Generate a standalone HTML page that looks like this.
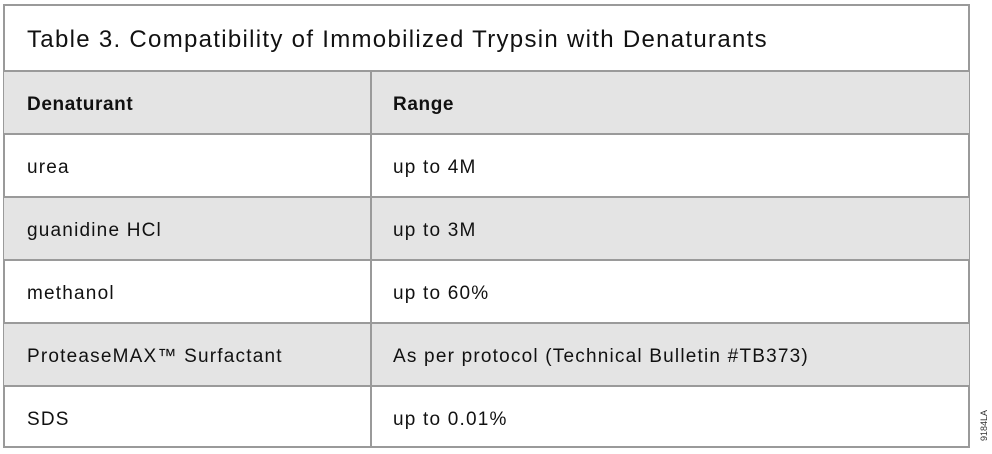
<!DOCTYPE html>
<html><head><style>
body{margin:0;width:992px;height:454px;background:#fff;position:relative;font-family:"Liberation Sans",sans-serif;color:#111;overflow:hidden}
.b{position:absolute;box-sizing:border-box}
.t{position:absolute;white-space:nowrap;font-size:19px;letter-spacing:1.2px}
</style></head><body>
<div class="b" style="left:3px;top:4px;width:967px;height:444px;border:2px solid #9a9a9a"></div>
<div class="b" style="left:4px;top:70px;width:965px;height:63px;background:#e4e4e4"></div>
<div class="b" style="left:4px;top:196px;width:965px;height:63px;background:#e4e4e4"></div>
<div class="b" style="left:4px;top:322px;width:965px;height:63px;background:#e4e4e4"></div>
<div class="b" style="left:4px;top:70px;width:965px;height:2px;background:#9a9a9a"></div>
<div class="b" style="left:4px;top:133px;width:965px;height:2px;background:#9a9a9a"></div>
<div class="b" style="left:4px;top:196px;width:965px;height:2px;background:#9a9a9a"></div>
<div class="b" style="left:4px;top:259px;width:965px;height:2px;background:#9a9a9a"></div>
<div class="b" style="left:4px;top:322px;width:965px;height:2px;background:#9a9a9a"></div>
<div class="b" style="left:4px;top:385px;width:965px;height:2px;background:#9a9a9a"></div>
<div class="b" style="left:370px;top:71px;width:2px;height:376px;background:#9a9a9a"></div>
<div class="t" style="left:27px;top:26px;font-size:24px;letter-spacing:1.3px">Table 3. Compatibility of Immobilized Trypsin with Denaturants</div>
<div class="t" style="left:27px;top:94px;font-weight:bold;letter-spacing:0.6px">Denaturant</div>
<div class="t" style="left:393px;top:94px;font-weight:bold;letter-spacing:0.6px">Range</div>
<div class="t" style="left:27px;top:157px">urea</div>
<div class="t" style="left:393px;top:157px">up to 4M</div>
<div class="t" style="left:27px;top:220px">guanidine HCl</div>
<div class="t" style="left:393px;top:220px">up to 3M</div>
<div class="t" style="left:27px;top:283px">methanol</div>
<div class="t" style="left:393px;top:283px">up to 60%</div>
<div class="t" style="left:27px;top:346px">ProteaseMAX™ Surfactant</div>
<div class="t" style="left:393px;top:346px">As per protocol (Technical Bulletin #TB373)</div>
<div class="t" style="left:27px;top:409px">SDS</div>
<div class="t" style="left:393px;top:409px">up to 0.01%</div>
<div class="t" style="left:979px;top:441px;font-size:9px;letter-spacing:0;transform:rotate(-90deg);transform-origin:left top;color:#333">9184LA</div>
</body></html>
